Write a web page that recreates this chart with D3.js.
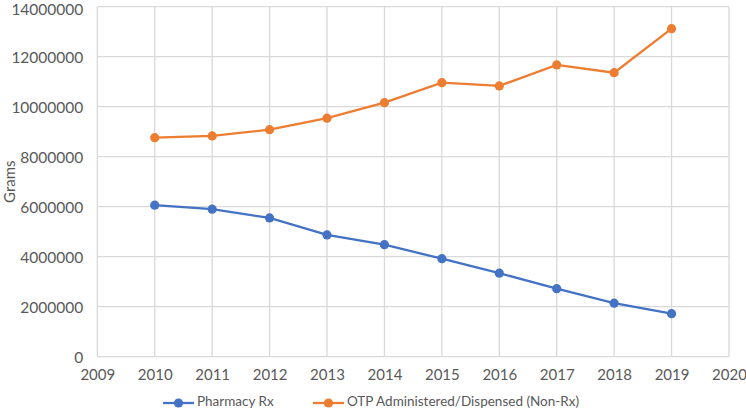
<!DOCTYPE html>
<html>
<head>
<meta charset="utf-8">
<script src="https://cdn.jsdelivr.net/npm/d3@7"></script>
<style>
  body { margin: 0; background: #fff; }
  text { font-family: Lato, "Open Sans", sans-serif; fill: #595959; }
</style>
</head>
<body>
<div id="chart"></div>
<script>
const years = [2010, 2011, 2012, 2013, 2014, 2015, 2016, 2017, 2018, 2019];
const pharmacyRx = [6060000, 5900000, 5550000, 4870000, 4480000, 3920000, 3340000, 2720000, 2140000, 1720000];
const otpNonRx = [8760000, 8830000, 9080000, 9540000, 10160000, 10960000, 10830000, 11670000, 11360000, 13120000];
const xTicks = [2009, 2010, 2011, 2012, 2013, 2014, 2015, 2016, 2017, 2018, 2019, 2020];
const yTicks = [0, 2000000, 4000000, 6000000, 8000000, 10000000, 12000000, 14000000];

const series = [
  { name: "Pharmacy Rx", values: pharmacyRx, color: "#4472C4" },
  { name: "OTP Administered/Dispensed (Non-Rx)", values: otpNonRx, color: "#ED7D31" }
];

const width = 746;
const height = 415;
const margin = { top: 6.7, right: 17, bottom: 58.3, left: 97.3 };

const svg = d3.select("#chart")
  .append("svg")
  .attr("width", width)
  .attr("height", height);

const x = d3.scaleLinear()
  .domain([2009, 2020])
  .range([margin.left, width - margin.right]);

const y = d3.scaleLinear()
  .domain([0, 14000000])
  .range([height - margin.bottom, margin.top]);

// gridlines
svg.append("g")
  .selectAll("line")
  .data(yTicks)
  .join("line")
  .attr("x1", margin.left)
  .attr("x2", width - margin.right)
  .attr("y1", d => y(d))
  .attr("y2", d => y(d))
  .attr("stroke", "#d9d9d9")
  .attr("stroke-width", 1.3);

svg.append("g")
  .selectAll("line")
  .data(xTicks)
  .join("line")
  .attr("x1", d => x(d))
  .attr("x2", d => x(d))
  .attr("y1", y(0))
  .attr("y2", y(14000000))
  .attr("stroke", "#d9d9d9")
  .attr("stroke-width", 1.3);

// axes (labels only)
const yAxis = svg.append("g")
  .attr("transform", `translate(${margin.left},0)`)
  .call(d3.axisLeft(y).tickValues(yTicks).tickFormat(d3.format("d")).tickSize(0).tickPadding(14));
yAxis.select(".domain").remove();
yAxis.selectAll("text")
  .style("font-size", "15.5px")
  .attr("fill", "#595959")
  .attr("dy", d => d === 14000000 ? "0.5em" : "0.38em"); // keep top label inside the frame

const xAxis = svg.append("g")
  .attr("transform", `translate(0,${y(0)})`)
  .call(d3.axisBottom(x).tickValues(xTicks).tickFormat(d3.format("d")).tickSize(0).tickPadding(13));
xAxis.select(".domain").remove();
xAxis.selectAll("text").style("font-size", "15px").attr("fill", "#595959");

svg.append("text")
  .attr("transform", `translate(11,${(margin.top + y(0)) / 2}) rotate(-90)`)
  .attr("text-anchor", "middle")
  .attr("dominant-baseline", "middle")
  .style("font-size", "15px")
  .text("Grams");

// lines and markers
const line = d3.line()
  .x((d, i) => x(years[i]))
  .y(d => y(d));

series.forEach(s => {
  svg.append("path")
    .datum(s.values)
    .attr("fill", "none")
    .attr("stroke", s.color)
    .attr("stroke-width", 2.3)
    .attr("d", line);

  svg.append("g")
    .selectAll("circle")
    .data(s.values)
    .join("circle")
    .attr("cx", (d, i) => x(years[i]))
    .attr("cy", d => y(d))
    .attr("r", 4.6)
    .attr("fill", s.color);
});

// legend
const legendY = 403;
const legendX = [163, 313];
const legend = svg.append("g");
series.forEach((s, i) => {
  const g = legend.append("g").attr("transform", `translate(${legendX[i]},${legendY})`);
  g.append("line")
    .attr("x1", 0).attr("x2", 31)
    .attr("stroke", s.color).attr("stroke-width", 2.3);
  g.append("circle")
    .attr("cx", 15.5).attr("r", 4.6).attr("fill", s.color);
  g.append("text")
    .attr("x", 34)
    .attr("dominant-baseline", "middle")
    .style("font-size", "13.5px")
    .text(s.name);
});
</script>
</body>
</html>
